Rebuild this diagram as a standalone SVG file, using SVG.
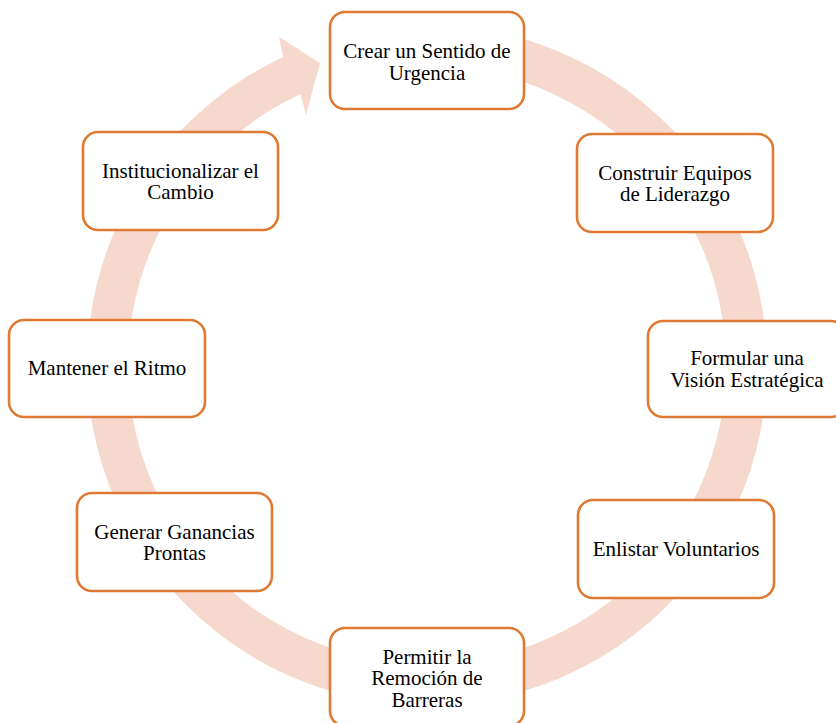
<svg xmlns="http://www.w3.org/2000/svg" width="836" height="723" viewBox="0 0 836 723">
<style>
.box{fill:#FFFFFF;stroke:#DF7934;stroke-width:2.6}
.t{font-family:'Liberation Serif','Times New Roman',serif;font-size:21px;fill:#000000;text-anchor:middle}
.ring{fill:#F7D8CD}
</style>
<rect width="836" height="723" fill="#FFFFFF"/>
<g id="connectors">
<path class="ring" d="M456.6,26.3 A340,340 0 1 1 283.3,56.9 L279,37 L320,63 L306,115 L300.6,94.0 A299,299 0 1 0 453.1,67.1 Z"/>
</g>
<g id="n1"><rect class="box" x="330" y="12" width="194" height="97" rx="15"/><text class="t" font-family="Liberation Serif, serif" x="427" y="58">Crear un Sentido de</text><text class="t" font-family="Liberation Serif, serif" x="427" y="79.5">Urgencia</text></g>
<g id="n2"><rect class="box" x="577" y="134" width="196" height="98" rx="15"/><text class="t" font-family="Liberation Serif, serif" x="675" y="179.5">Construir Equipos</text><text class="t" font-family="Liberation Serif, serif" x="675" y="201">de Liderazgo</text></g>
<g id="n3"><rect class="box" x="648" y="321" width="198" height="96" rx="15"/><text class="t" font-family="Liberation Serif, serif" x="747" y="365">Formular una</text><text class="t" font-family="Liberation Serif, serif" x="747" y="386.5">Visión Estratégica</text></g>
<g id="n4"><rect class="box" x="578" y="500" width="196" height="98" rx="15"/><text class="t" font-family="Liberation Serif, serif" x="676" y="556">Enlistar Voluntarios</text></g>
<g id="n5"><rect class="box" x="330" y="628" width="194" height="98" rx="15"/><text class="t" font-family="Liberation Serif, serif" x="427" y="663.5">Permitir la</text><text class="t" font-family="Liberation Serif, serif" x="427" y="685">Remoción de</text><text class="t" font-family="Liberation Serif, serif" x="427" y="707">Barreras</text></g>
<g id="n6"><rect class="box" x="77" y="493" width="195" height="98" rx="15"/><text class="t" font-family="Liberation Serif, serif" x="174.5" y="538.5">Generar Ganancias</text><text class="t" font-family="Liberation Serif, serif" x="174.5" y="560">Prontas</text></g>
<g id="n7"><rect class="box" x="9" y="320" width="196" height="97" rx="15"/><text class="t" font-family="Liberation Serif, serif" x="107" y="375">Mantener el Ritmo</text></g>
<g id="n8"><rect class="box" x="83" y="132" width="195" height="98" rx="15"/><text class="t" font-family="Liberation Serif, serif" x="180.5" y="177.5">Institucionalizar el</text><text class="t" font-family="Liberation Serif, serif" x="180.5" y="199">Cambio</text></g>
</svg>
